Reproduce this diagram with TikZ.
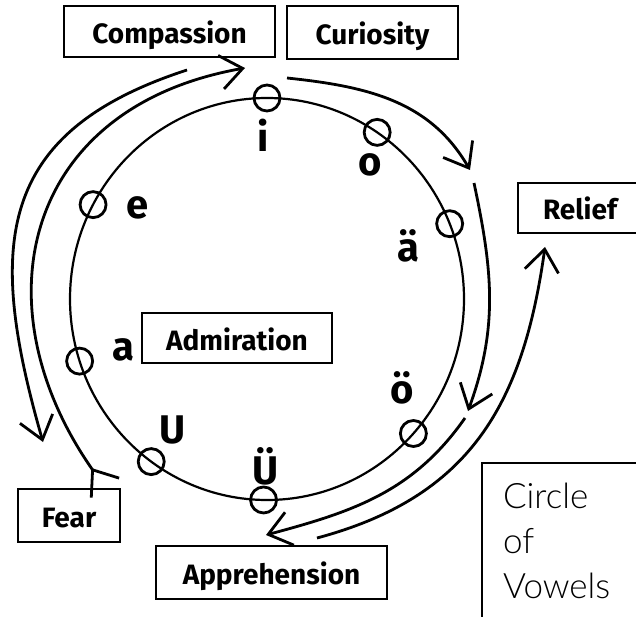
\documentclass[tikz,border=0pt]{standalone}
\usepackage{fontspec}
\setmainfont{Fira Sans}
\newfontfamily\labfont{Fira Sans}
\IfFontExistsTF{Lato Light}{\newfontfamily\notefont{Lato Light}}{\newfontfamily\notefont{Lato}}
\usetikzlibrary{arrows.meta,calc,positioning}
\tikzset{
  box-l/.style={draw,line width=2pt,inner sep=0pt,text height=24pt,text depth=0pt,font=\labfont\bfseries\fontsize{28}{30}\selectfont},
  box-n/.style={draw,line width=2pt,align=left,text width=140pt,inner xsep=21pt,inner ysep=20pt,font=\notefont\fontsize{35}{45}\selectfont},
  vow/.style={draw,circle,minimum size=26pt,inner sep=0pt,line width=2.8pt},
  vow-l/.style={inner sep=0pt,font=\labfont\bfseries\fontsize{40}{40}\selectfont},
  ring/.style={draw,line width=2.2pt},
  flow/.style={-{Straight Barb[length=22pt,width=34pt]},line width=2.8pt},
}

\begin{document}
\begin{tikzpicture}[x=1pt,y=-1pt]
  \useasboundingbox (0,0) rectangle (636,617);
  \clip (0,0) rectangle (636,617);
  \fill[white] (0,0) rectangle (636,617);

  % ring of vowels
  \coordinate (ctr) at (267,299);
  \draw[ring] (ctr) ellipse [x radius=197, y radius=201];

  \node[vow] (vi) at ($(ctr)+(-90:197 and 201)$) {};
  \node[vow] (vo) at ($(ctr)+(-56:197 and 201)$) {};
  \node[vow] (vae) at ($(ctr)+(-22:197 and 201)$) {};
  \node[vow] (voe) at ($(ctr)+(42:197 and 201)$) {};
  \node[vow] (vue) at ($(ctr)+(91:197 and 201)$) {};
  \node[vow] (vu) at ($(ctr)+(126:197 and 201)$) {};
  \node[vow] (va) at ($(ctr)+(162:197 and 201)$) {};
  \node[vow] (ve) at ($(ctr)+(-152:197 and 201)$) {};

  \node[vow-l] (li) at (263,135) {i};
  \node[vow-l] (lo) at (370,165) {o};
  \node[vow-l] (lae) at (408,246) {ä};
  \node[vow-l] (loe) at (402,388) {ö};
  \node[vow-l] (lue) at (266,466) {Ü};
  \node[vow-l] (lu) at (173,430) {U};
  \node[vow-l] (la) at (123,350) {a};
  \node[vow-l] (le) at (138,208) {e};

  % feelings
  \node[box-l,minimum width=211pt,minimum height=51pt] (comp) at (169.5,31.5) {Compassion};
  \node[box-l,minimum width=171pt,minimum height=53pt] (curi) at (372.5,32.5) {Curiosity};
  \node[box-l,minimum width=124pt,minimum height=50pt] (reli) at (580,208) {Relief};
  \node[box-l,minimum width=190pt,minimum height=50pt] (admi) at (237,338) {Admiration};
  \node[box-l,minimum width=102pt,minimum height=53pt] (fear) at (69,515.5) {Fear};
  \node[box-l,minimum width=231pt,minimum height=53pt] (appr) at (271.5,572.5) {Apprehension};
  \node[box-n,anchor=north west] (cov) at (481,462) {Circle\\of\\Vowels};

  % outer arrows
  \coordinate (b1s) at (287,78);
  \coordinate (b1e) at (470,170);
  \coordinate (b2s) at (474,183);
  \coordinate (b2e) at (468,411);
  \coordinate (b3s) at (465,418);
  \coordinate (b3e) at (266,535);
  \coordinate (cs) at (317,538);
  \coordinate (ce) at (545,247);
  \coordinate (ds) at (187,70);
  \coordinate (de) at (43,442);
  \coordinate (es) at (106,489);
  \coordinate (ee) at (245,68);

  \draw[flow] (b1s) to[out=-6,in=120] (b1e);
  \draw[flow] (b2s) to[out=-78,in=70] (b2e);
  \draw[flow] (b3s) to[out=-125,in=15] (b3e);
  \draw[flow] (cs) to[out=15,in=-98,looseness=1.1] (ce);
  \draw[flow] (ds) to[out=198,in=106,looseness=1.3] (de);
  \draw[flow,{Straight Barb[reversed,length=22pt,width=34pt]}-{Straight Barb[length=22pt,width=34pt]}] (es) to[out=125,in=190,looseness=1.3] (ee);

\end{tikzpicture}
\end{document}
